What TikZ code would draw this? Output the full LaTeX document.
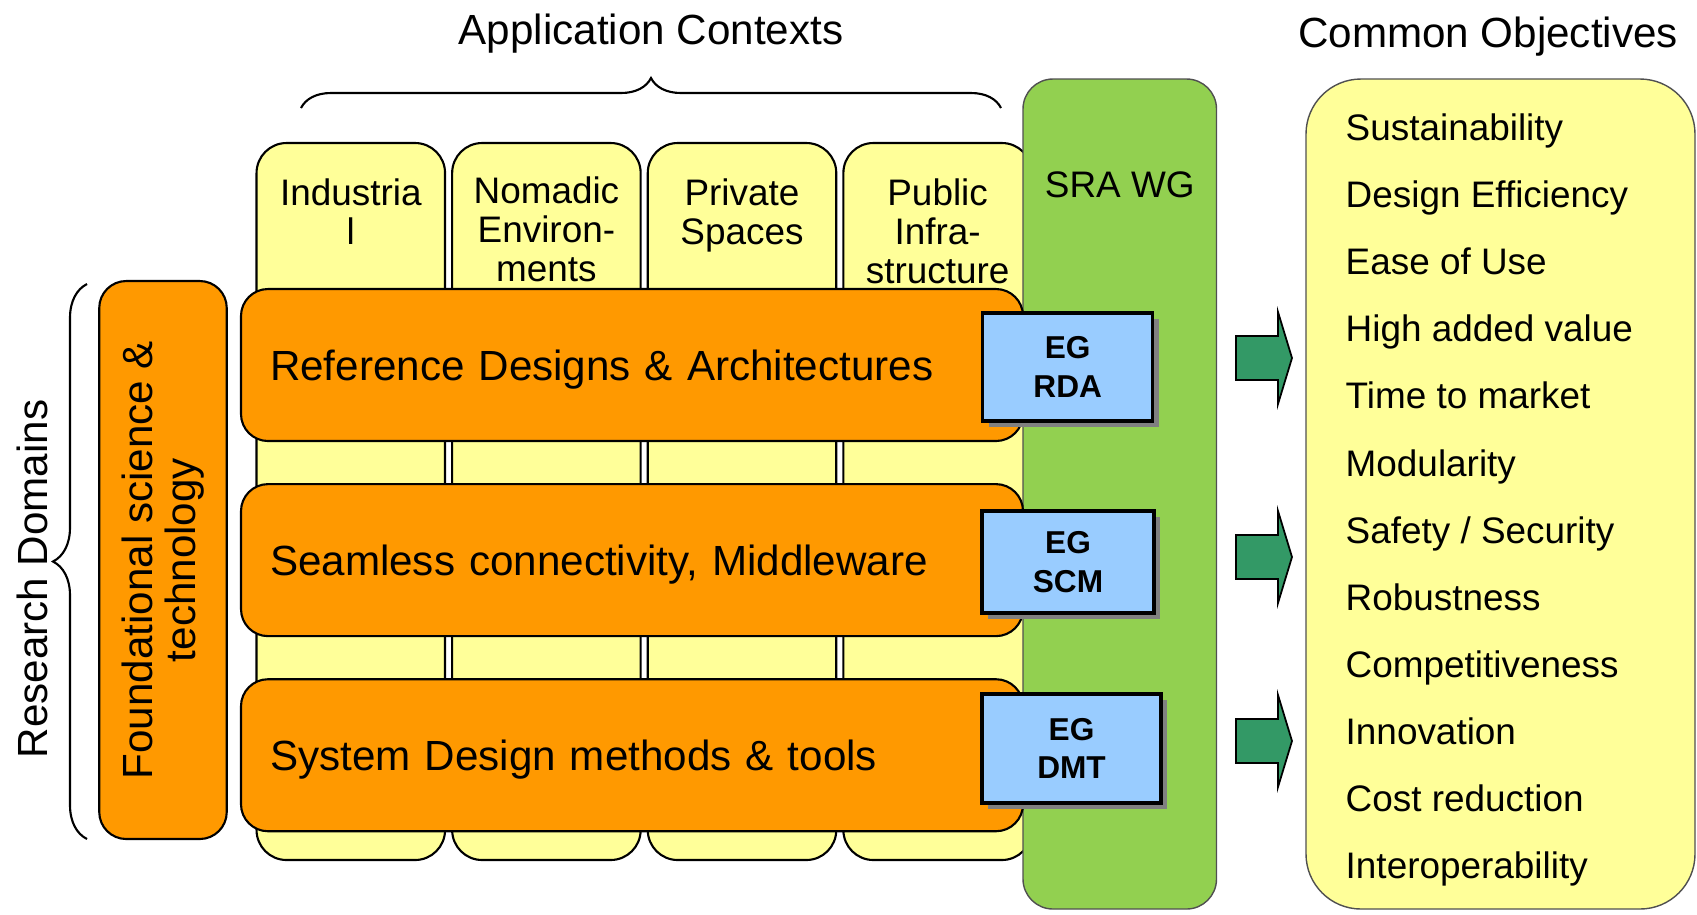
\documentclass[tikz,border=0pt]{standalone}
\usepackage{fontspec}
\setmainfont{Liberation Sans}
\usepackage{tikz}
\usetikzlibrary{positioning, shadows, decorations.pathreplacing}
\definecolor{colyellow}{RGB}{255,255,153}
\definecolor{domorange}{RGB}{255,153,0}
\definecolor{wggreen}{RGB}{146,208,80}
\definecolor{egblue}{RGB}{153,204,255}
\definecolor{arrgreen}{RGB}{51,153,102}
\definecolor{egshadow}{RGB}{128,128,128}
\definecolor{framegray}{RGB}{80,80,80}
\tikzset{
  colbox/.style={rectangle, draw=black, fill=colyellow,
    minimum width=1.885cm, minimum height=7.17cm,
    rounded corners=0.3cm, line width=0.6pt},
  coltext/.style={align=center, inner sep=0pt,
    font=\fontsize{10.5}{11.1}\selectfont},
  resbox/.style={rectangle, draw=black, fill=domorange,
    text width=7.24cm, inner xsep=0.29cm, minimum height=1.52cm,
    text height=0.31cm, text depth=0cm,
    align=left, rounded corners=0.27cm, line width=0.6pt,
    font=\fontsize{12}{14}\selectfont},
  found/.style={rectangle, draw=black, fill=domorange, rotate=90,
    minimum width=5.58cm, minimum height=1.275cm, align=center,
    rounded corners=0.27cm, line width=0.6pt,
    font=\fontsize{12}{12.3}\selectfont},
  egbox/.style={rectangle, draw=black, fill=egblue, line width=1pt,
    align=center, font=\fontsize{9}{11}\selectfont\bfseries,
    drop shadow={shadow xshift=0.06cm, shadow yshift=-0.06cm,
      fill=egshadow, opacity=1}},
  wgbox/.style={rectangle, draw=framegray, fill=wggreen,
    minimum width=1.935cm, minimum height=8.30cm,
    rounded corners=0.3cm, line width=0.4pt},
  objbox/.style={rectangle, draw=framegray, fill=colyellow,
    minimum width=3.89cm, minimum height=8.30cm,
    rounded corners=0.55cm, line width=0.4pt},
  bigarrow/.style={draw=black, fill=arrgreen, line width=0.5pt},
  heading/.style={inner sep=0pt, font=\fontsize{12}{14}\selectfont},
  wgtext/.style={inner sep=0pt, font=\fontsize{10.5}{12}\selectfont},
  objtext/.style={anchor=west, inner sep=0pt, text height=0.27cm,
    text depth=0.08cm, font=\fontsize{10.5}{12}\selectfont},
  bracedeco/.style={decorate, decoration={brace, amplitude=0.3cm},
    line width=0.6pt}
}

\begin{document}
\begin{tikzpicture}
  \useasboundingbox (0,0) rectangle (16.97,-9.14);

  % application context columns
  \node[colbox] (ind) at (3.508,-5.015) {};
  \node[colbox, right=0.05cm of ind] (nom) {};
  \node[colbox, right=0.05cm of nom] (priv) {};
  \node[colbox, right=0.05cm of priv] (pub) {};
  \node[coltext, below=0.365cm of ind.north] (indlbl) {Industria\\l};
  \node[coltext, below=0.34cm of nom.north] (nomlbl) {Nomadic\\Environ-\\ments};
  \node[coltext, below=0.365cm of priv.north] (privlbl) {Private\\Spaces};
  \node[coltext, below=0.365cm of pub.north] (publbl) {Public\\Infra-\\structure};

  % SRA WG
  \node[wgbox] (sra) at (11.1975,-4.94) {};
  \node[wgtext, below=0.93cm of sra.north] (sralbl) {SRA WG};

  % research domains
  \node[resbox] (rda) at (6.32,-3.65) {Reference Designs \& Architectures};
  \node[resbox, below=0.41cm of rda] (scm) {Seamless connectivity, Middleware};
  \node[resbox, below=0.41cm of scm] (dmt) {System Design methods \& tools};
  \node[found] (fst) at (1.63,-5.60) {Foundational science \&\\technology};

  % expert groups
  \node[egbox, minimum width=1.70cm, minimum height=1.08cm] (egrda) at (10.677,-3.67) {EG\\RDA};
  \node[egbox, minimum width=1.72cm, minimum height=1.02cm] (egscm) at (10.68,-5.62) {EG\\SCM};
  \node[egbox, minimum width=1.79cm, minimum height=1.09cm] (egdmt) at (10.715,-7.485) {EG\\DMT};

  % block arrows
  \foreach \ay in {3.58,5.57,7.41}
    \filldraw[bigarrow, shift={(12.36,-\ay)}] (0,0.22) -- (0.42,0.22) -- (0.42,0.46)
      -- (0.56,0) -- (0.42,-0.46) -- (0.42,-0.22) -- (0,-0.22) -- cycle;

  % objectives
  \node[objbox] (obj) at (15.005,-4.94) {};
  \node[heading] (objtitle) at (14.88,-0.365) {Common Objectives};
  \foreach \t [count=\i from 0] in {Sustainability, Design Efficiency, Ease of Use,
      High added value, Time to market, Modularity, Safety / Security, Robustness,
      Competitiveness, Innovation, Cost reduction, Interoperability}
    \node[objtext] (item\i) at (13.45,{-1.31-0.671*\i}) {\t};

  % titles and braces
  \node[heading] (apptitle) at (6.51,-0.335) {Application Contexts};
  \node[heading, rotate=90] (rdom) at (0.325,-5.79) {Research Domains};
  \coordinate (acl) at (3.01,-1.08);
  \coordinate (acr) at (10.01,-1.08);
  \draw[bracedeco] (acl) -- (acr);
  \coordinate (rdb) at (0.87,-8.39);
  \coordinate (rdt) at (0.87,-2.84);
  \draw[bracedeco, decoration={brace, amplitude=0.34cm}] (rdb) -- (rdt);
\end{tikzpicture}
\end{document}
